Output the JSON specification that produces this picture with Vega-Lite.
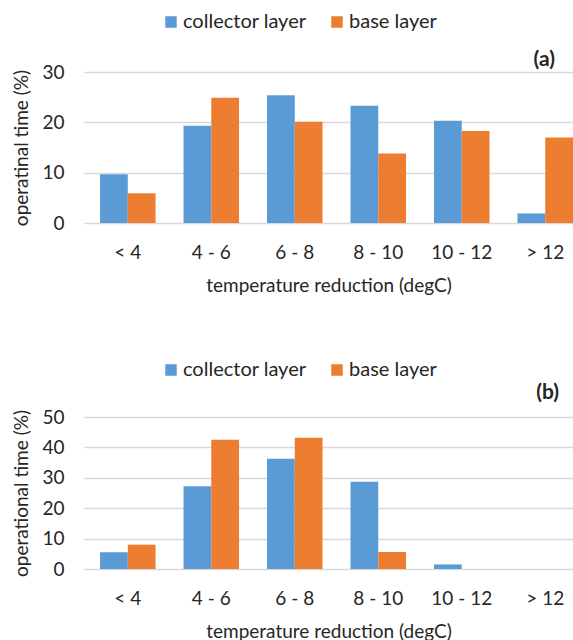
{
  "$schema": "https://vega.github.io/schema/vega-lite/v6.json",
  "autosize": {"type": "pad"},
  "padding": {"left": 12, "top": 12, "right": 0, "bottom": 2},
  "background": "white",
  "datasets": {
    "a": [
      {"cat": "< 4", "layer": "collector layer", "value": 9.7},
      {"cat": "< 4", "layer": "base layer", "value": 5.9},
      {"cat": "4 - 6", "layer": "collector layer", "value": 19.3},
      {"cat": "4 - 6", "layer": "base layer", "value": 24.9},
      {"cat": "6 - 8", "layer": "collector layer", "value": 25.4},
      {"cat": "6 - 8", "layer": "base layer", "value": 20.1},
      {"cat": "8 - 10", "layer": "collector layer", "value": 23.3},
      {"cat": "8 - 10", "layer": "base layer", "value": 13.8},
      {"cat": "10 - 12", "layer": "collector layer", "value": 20.3},
      {"cat": "10 - 12", "layer": "base layer", "value": 18.3},
      {"cat": "> 12", "layer": "collector layer", "value": 1.9},
      {"cat": "> 12", "layer": "base layer", "value": 17.0}
    ],
    "b": [
      {"cat": "< 4", "layer": "collector layer", "value": 5.5},
      {"cat": "< 4", "layer": "base layer", "value": 8.0},
      {"cat": "4 - 6", "layer": "collector layer", "value": 27.2},
      {"cat": "4 - 6", "layer": "base layer", "value": 42.5},
      {"cat": "6 - 8", "layer": "collector layer", "value": 36.3},
      {"cat": "6 - 8", "layer": "base layer", "value": 43.2},
      {"cat": "8 - 10", "layer": "collector layer", "value": 28.7},
      {"cat": "8 - 10", "layer": "base layer", "value": 5.6},
      {"cat": "10 - 12", "layer": "collector layer", "value": 1.5},
      {"cat": "10 - 12", "layer": "base layer", "value": 0},
      {"cat": "> 12", "layer": "collector layer", "value": 0},
      {"cat": "> 12", "layer": "base layer", "value": 0}
    ]
  },
  "config": {
    "font": "Lato",
    "view": {"stroke": null},
    "axis": {
      "labelFont": "Lato",
      "titleFont": "Lato",
      "labelColor": "#262626",
      "titleColor": "#262626",
      "labelFontSize": 19,
      "titleFontSize": 19,
      "titleFontWeight": "normal"
    },
    "legend": {
      "labelFont": "Lato",
      "labelFontSize": 20,
      "labelColor": "#262626",
      "symbolType": "square",
      "symbolSize": 132,
      "symbolStrokeWidth": 0,
      "labelOffset": 2,
      "columnPadding": 20,
      "padding": 0
    },
    "title": {"font": "Lato", "color": "#262626"}
  },
  "resolve": {"scale": {"color": "independent"}, "legend": {"color": "independent"}},
  "spacing": 65,
  "vconcat": [
    {
      "data": {"name": "a"},
      "width": 489,
      "height": 151,
      "title": {"text": "(a)", "anchor": "end", "frame": "group", "fontWeight": "bold", "fontSize": 21, "offset": 0, "dx": -18, "dy": 58},
      "mark": {"type": "bar"},
      "encoding": {
        "x": {
          "field": "cat", "type": "nominal",
          "sort": ["< 4", "4 - 6", "6 - 8", "8 - 10", "10 - 12", "> 12"],
          "scale": {"paddingInner": 0.335, "paddingOuter": 0.096, "align": 1},
          "axis": {"title": "temperature reduction (degC)", "labelAngle": 0, "domain": false, "ticks": false, "tickSize": 0, "labelPadding": 20, "titlePadding": 14}
        },
        "xOffset": {"field": "layer", "type": "nominal", "sort": ["collector layer", "base layer"]},
        "y": {
          "field": "value", "type": "quantitative",
          "scale": {"domain": [0, 30]},
          "axis": {"values": [0, 10, 20, 30], "title": "operatinal time (%)", "domain": false, "ticks": false, "tickSize": 0, "labelPadding": 20, "titlePadding": 10, "gridColor": "#d9d9d9", "gridWidth": 1.5}
        },
        "color": {
          "field": "layer", "type": "nominal",
          "scale": {"domain": ["collector layer", "base layer"], "range": ["#5b9bd5", "#ed7d31"]},
          "legend": {"orient": "none", "legendX": 77, "legendY": -60, "direction": "horizontal", "title": null}
        }
      }
    },
    {
      "data": {"name": "b"},
      "width": 489,
      "height": 152,
      "title": {"text": "(b)", "anchor": "end", "frame": "group", "fontWeight": "bold", "fontSize": 21, "offset": 0, "dx": -14, "dy": 43},
      "mark": {"type": "bar"},
      "encoding": {
        "x": {
          "field": "cat", "type": "nominal",
          "sort": ["< 4", "4 - 6", "6 - 8", "8 - 10", "10 - 12", "> 12"],
          "scale": {"paddingInner": 0.335, "paddingOuter": 0.096, "align": 1},
          "axis": {"title": "temperature reduction (degC)", "labelAngle": 0, "domain": false, "ticks": false, "tickSize": 0, "labelPadding": 20, "titlePadding": 14}
        },
        "xOffset": {"field": "layer", "type": "nominal", "sort": ["collector layer", "base layer"]},
        "y": {
          "field": "value", "type": "quantitative",
          "scale": {"domain": [0, 50]},
          "axis": {"values": [0, 10, 20, 30, 40, 50], "title": "operational time (%)", "domain": false, "ticks": false, "tickSize": 0, "labelPadding": 20, "titlePadding": 10, "gridColor": "#d9d9d9", "gridWidth": 1.5}
        },
        "color": {
          "field": "layer", "type": "nominal",
          "scale": {"domain": ["collector layer", "base layer"], "range": ["#5b9bd5", "#ed7d31"]},
          "legend": {"orient": "none", "legendX": 77, "legendY": -57, "direction": "horizontal", "title": null}
        }
      }
    }
  ]
}
